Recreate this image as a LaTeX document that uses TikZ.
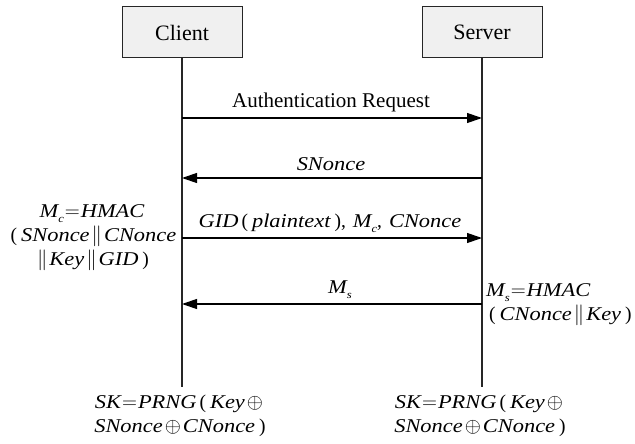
\documentclass[tikz,border=0pt]{standalone}
\usepackage{fontspec}
\setmainfont{Liberation Serif}
\newfontfamily\wf{Liberation Serif}[FakeStretch=1.15]
\usetikzlibrary{arrows.meta}
\newcommand{\vv}[1]{{\wf\itshape #1}}
\newcommand{\sbs}[1]{\raisebox{-5pt}{\fontsize{11}{11}\selectfont\vv{#1}}}
\newcommand{\lp}{\kern3pt(\kern4pt}
\newcommand{\rp}{\kern4pt)}
\newcommand{\dbar}{\kern2pt$\|$\kern2pt}
\newcommand{\eqs}{\kern1pt$=$\kern1pt}
\newcommand{\ops}{\kern2pt$\oplus$\kern2pt}
\begin{document}
\begin{tikzpicture}[x=1pt,y=-1pt,
  font=\fontsize{19.5}{24}\selectfont,
  actor/.style={draw=black!85, fill=black!6, minimum width=120pt, minimum height=51pt, line width=1pt, inner sep=0pt, font=\fontsize{22}{24}\selectfont},
  life/.style={line width=1.2pt, draw=black!85},
  msg/.style={line width=1.2pt, -{Triangle[length=15pt,width=10pt]}},
  lbl/.style={align=center, inner sep=0pt}]
\useasboundingbox (0,0) rectangle (635,444);
\node[actor] (C) at (182,32.5) {Client};
\node[actor] (S) at (482,32.5) {Server};
\coordinate (CE) at (182,387);
\coordinate (SE) at (482,387);
\draw[life] (C.south) -- (CE);
\draw[life] (S.south) -- (SE);
\coordinate (c1) at (182,118); \coordinate (s1) at (482,118);
\coordinate (c2) at (182,178); \coordinate (s2) at (482,178);
\coordinate (c3) at (182,238); \coordinate (s3) at (482,238);
\coordinate (c4) at (182,304); \coordinate (s4) at (482,304);
\draw[msg] (c1) -- (s1);
\draw[msg] (s2) -- (c2);
\draw[msg] (c3) -- (s3);
\draw[msg] (s4) -- (c4);
\node[lbl, anchor=base, font=\fontsize{21}{24}\selectfont] (l1) at (331,107) {Authentication Request};
\node[lbl, anchor=base] (l2) at (331,170) {\vv{SNonce}};
\node[lbl, anchor=base] (l3) at (330,227) {\vv{GID}\lp\vv{plaintext}\rp,\kern7pt\vv{M}\sbs{c},\kern7pt\vv{CNonce}};
\node[lbl, anchor=base] (l4) at (340,293) {\vv{M}\sbs{s}};
\node[lbl, anchor=center] (mc) at (92,238) {\vv{M}\sbs{c}\eqs\vv{HMAC}\\\lp\vv{SNonce}\dbar\vv{CNonce}\\\dbar\vv{Key}\dbar\vv{GID}\rp};
\node[lbl, anchor=west, align=left] (ms) at (486,305) {\vv{M}\sbs{s}\eqs\vv{HMAC}\\\lp\vv{CNonce}\dbar\vv{Key}\rp};
\node[lbl, anchor=center] (kc) at (180,416) {\vv{SK}\eqs\vv{PRNG}\lp\vv{Key}\ops\\\vv{SNonce}\ops\vv{CNonce}\rp};
\node[lbl, anchor=center] (ks) at (480,416) {\vv{SK}\eqs\vv{PRNG}\lp\vv{Key}\ops\\\vv{SNonce}\ops\vv{CNonce}\rp};
\end{tikzpicture}
\end{document}
